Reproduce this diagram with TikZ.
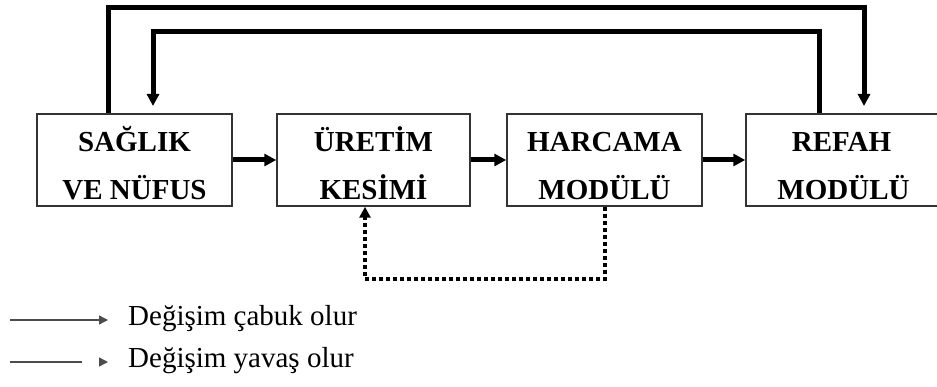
\documentclass[tikz,border=0pt]{standalone}
\usepackage{fontspec}
\setmainfont{Liberation Serif}
\usetikzlibrary{arrows.meta,calc}
\newcommand{\toppad}{\rule{0pt}{31pt}}
\tikzset{
  box/.style={draw=black!80, line width=1.5pt, minimum width=195pt, minimum height=92pt, inner sep=0pt, align=center, font=\bfseries\fontsize{29}{48}\selectfont},
  thick arrow/.style={line width=5pt, -{Triangle[length=12pt,width=12pt]}},
  slow arrow/.style={line width=4.5pt, dash pattern=on 4pt off 3pt, -{Triangle[length=11pt,width=11pt]}},
  legend line/.style={line width=1.5pt, draw=black!70},
  legend tip/.style={line width=1.5pt, draw=black!70, -{Triangle[length=9pt,width=9pt]}},
  legend text/.style={anchor=west, inner sep=0pt, font=\fontsize{29}{32}\selectfont}
}
\begin{document}
\begin{tikzpicture}[x=1pt,y=-1pt]
\useasboundingbox (0,0) rectangle (937,387);
\begin{scope}
\clip (0,0) rectangle (937,387);
\node[box] (b1) at (134.5,160) {\toppad SAĞLIK\\VE NÜFUS};
\node[box, minimum width=193pt] (b2) at (373.5,160) {\toppad ÜRETİM\\KESİMİ};
\node[box] (b3) at (604.5,160) {\toppad HARCAMA\\MODÜLÜ};
\node[box, minimum width=199pt] (b4) at (845.5,160) {\toppad\hspace*{-8pt}REFAH\\\hspace*{-4pt}MODÜLÜ};
\end{scope}

% horizontal fast arrows
\draw[thick arrow] (b1.east) -- (b2.west);
\draw[thick arrow] (b2.east) -- (b3.west);
\draw[thick arrow] (b3.east) -- (b4.west);

% outer feedback: health -> welfare
\coordinate (o1) at (108,8);
\coordinate (o2) at (864,8);
\coordinate (o3) at (864,106);
\draw[thick arrow] (b1.north -| o1) -- (o1) -- (o2) -- (o3);

% inner feedback: welfare -> health
\coordinate (i1) at (819,32);
\coordinate (i2) at (153,32);
\coordinate (i3) at (153,106);
\draw[thick arrow] (b4.north -| i1) -- (i1) -- (i2) -- (i3);

% slow (dotted) feedback: spending -> production
\coordinate (d1) at (605,279);
\coordinate (d2) at (365,279);
\draw[slow arrow] (b3.south -| d1) -- (d1) -- (d2) -- (b2.south -| d2);

% legend
\coordinate (la) at (10,320);
\coordinate (lb) at (108,320);
\draw[legend tip] (la) -- (lb);
\node[legend text] (t1) at (128,319) {Değişim çabuk olur};

\coordinate (ma) at (10,362);
\coordinate (mb) at (82,362);
\coordinate (mc) at (100,362);
\coordinate (md) at (108,362);
\draw[legend line] (ma) -- (mb);
\draw[legend tip] (mc) -- (md);
\node[legend text] (t2) at (128,361) {Değişim yavaş olur};
\end{tikzpicture}
\end{document}
